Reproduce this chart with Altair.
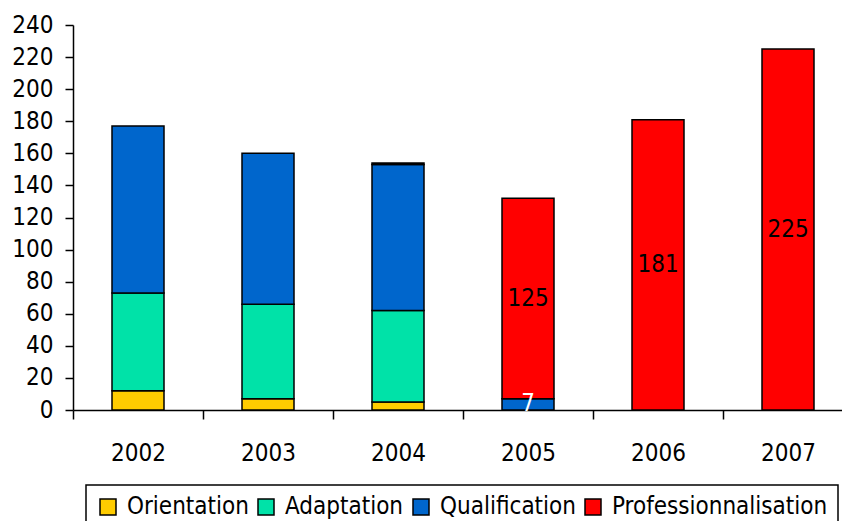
import altair as alt
import pandas as pd

years = ["2002", "2003", "2004", "2005", "2006", "2007"]
series = ["Orientation", "Adaptation", "Qualification", "Professionnalisation"]
orientation = [12, 7, 5, 0, 0, 0]
adaptation = [61, 59, 57, 0, 0, 0]
qualification = [104, 94, 91, 7, 0, 0]
professionnalisation = [0, 0, 1, 125, 181, 225]
colors = ["#FFCC00", "#00E2A8", "#0066CC", "#FF0000"]
y_ticks = list(range(0, 241, 20))
labelled_years = ["2005", "2006", "2007"]

FONT = "DejaVu Sans Condensed"

rows = []
for i, yr in enumerate(years):
    base = 0
    for k, (name, vals) in enumerate(
        zip(series, [orientation, adaptation, qualification, professionnalisation])
    ):
        v = vals[i]
        if v > 0:
            rows.append(
                dict(year=yr, series=name, order=k, value=v,
                     y0=base, y1=base + v, mid=base + v / 2, label=str(v))
            )
        base += v
df = pd.DataFrame(rows)
df_lab = df[df["year"].isin(labelled_years)]

x_scale = alt.Scale(domain=years, paddingInner=0, paddingOuter=0)
x_axis = alt.Axis(title=None, tickBand="extent", tickSize=9, labelPadding=22,
                  labelAngle=0, labelOverlap=False)
y_scale = alt.Scale(domain=[0, 240], nice=False)
y_axis = alt.Axis(title=None, values=y_ticks, tickSize=8, labelPadding=12,
                  labelOverlap=False)

bars = alt.Chart(df).mark_bar(
    width=alt.RelativeBandSize(0.4), stroke="black", strokeWidth=1.5
).encode(
    x=alt.X("year:N", scale=x_scale, axis=x_axis),
    y=alt.Y("y0:Q", scale=y_scale, axis=y_axis),
    y2="y1:Q",
    color=alt.Color(
        "series:N",
        scale=alt.Scale(domain=series, range=colors),
        legend=alt.Legend(
            title=None, orient="none", legendX=13, legendY=460,
            direction="horizontal", symbolType="square", symbolSize=256,
            symbolStrokeColor="black", symbolStrokeWidth=1.5,
            labelFontSize=24, labelFont=FONT, labelOffset=7, labelLimit=400,
            columnPadding=5, padding=10, strokeColor="black",
            labelColor="black",
        ),
    ),
)

text = alt.Chart(df_lab).mark_text(
    font=FONT, fontSize=24, baseline="middle", align="center"
).encode(
    x=alt.X("year:N", scale=x_scale, axis=x_axis),
    y=alt.Y("mid:Q", scale=y_scale, axis=y_axis),
    text="label:N",
    color=alt.condition(alt.datum.series == "Qualification",
                        alt.value("white"), alt.value("black")),
)

chart = alt.layer(bars, text).properties(
    width=780, height=385,
    padding={"left": 65, "top": 17, "right": -11, "bottom": 111},
    autosize=alt.AutoSizeParams(type="none"),
).configure_axis(
    labelFont=FONT, labelFontSize=24, labelColor="black",
    domainColor="black", tickColor="black", domainWidth=1.5, tickWidth=1.5,
    grid=False, labelOverlap=False,
).configure_legend(
    strokeWidth=1.5,
).configure_view(stroke=None)

chart.save("out.html", embed_options={"renderer": "svg", "actions": False})
